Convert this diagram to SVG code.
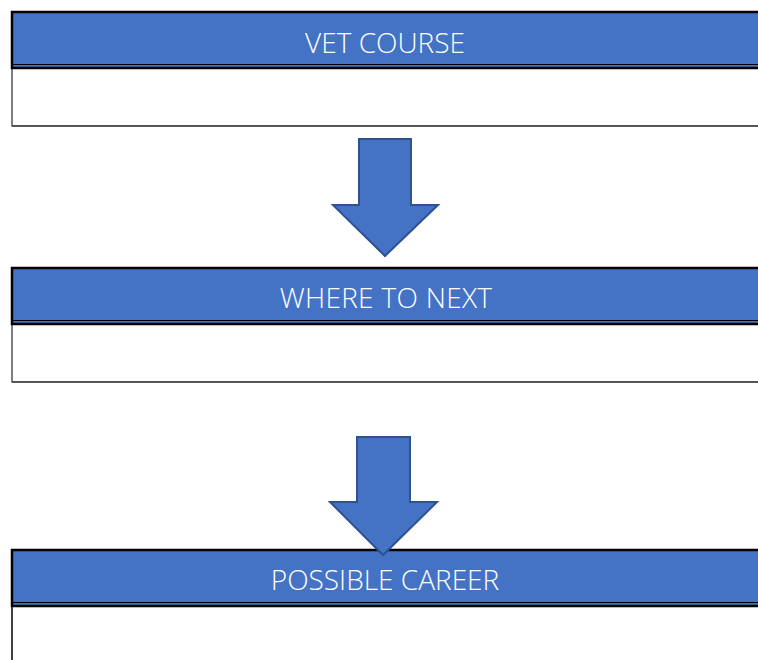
<svg xmlns="http://www.w3.org/2000/svg" width="758" height="660" viewBox="0 0 758 660">
<style>
.hdr{fill:#4472C4;stroke:#000;stroke-width:2.5}
.sep{stroke:#000;stroke-width:1.2;fill:none}
.body{fill:#fff;stroke:#000;stroke-width:1}
.bot{stroke:#4a4a4a;stroke-width:1.5}
.lbl{font-family:"Open Sans","Liberation Sans",sans-serif;font-weight:300;font-size:28px;fill:#fff;text-anchor:middle}
.arr{fill:#4472C4;stroke:#2F528F;stroke-width:2;stroke-linejoin:miter}
</style>
<rect width="758" height="660" fill="#fff"/>
<g id="node-vet">
<rect class="body" x="12" y="68" width="760" height="58"/>
<line class="bot" x1="12" y1="126" x2="758" y2="126"/>
<rect class="hdr" x="12" y="12" width="760" height="56"/>
<line class="sep" x1="12" y1="64.5" x2="758" y2="64.5"/>
<text class="lbl" x="385" y="53">VET COURSE</text>
</g>
<g id="node-next">
<rect class="body" x="12" y="324" width="760" height="58"/>
<line class="bot" x1="12" y1="382" x2="758" y2="382"/>
<rect class="hdr" x="12" y="268" width="760" height="56"/>
<line class="sep" x1="12" y1="320.5" x2="758" y2="320.5"/>
<text class="lbl" x="386" y="308" letter-spacing="0.3">WHERE TO NEXT</text>
</g>
<g id="node-career">
<line x1="12" y1="606" x2="12" y2="660" stroke="#000" stroke-width="1.5"/>
<rect class="hdr" x="12" y="550" width="760" height="56"/>
<line class="sep" x1="12" y1="602.5" x2="758" y2="602.5"/>
<text class="lbl" x="385" y="590">POSSIBLE CAREER</text>
</g>
<g id="connectors">
<polygon class="arr" points="359,139 411,139 411,205 438,205 385,256 333,205 359,205"/>
<polygon class="arr" points="357,437 410,437 410,502 437,502 383,555 330,502 357,502"/>
</g>
</svg>
